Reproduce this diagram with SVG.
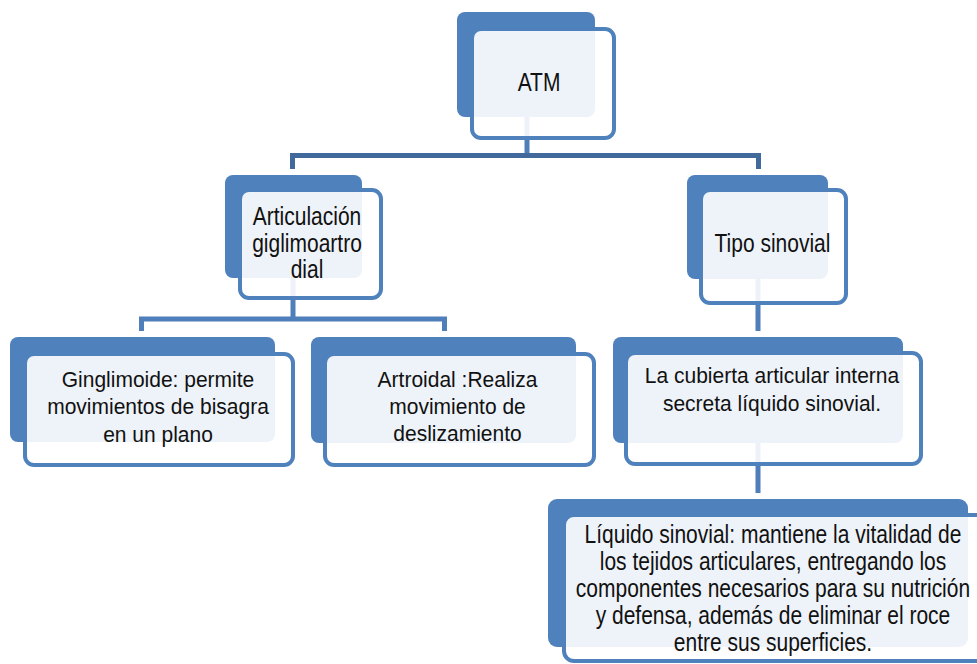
<svg xmlns="http://www.w3.org/2000/svg" width="977" height="664" viewBox="0 0 977 664">
<style>
.back{fill:#4F81BD}
.front{fill:#ffffff;fill-opacity:0.9;stroke:#4F81BD;stroke-width:4}
.conn{fill:none;stroke:#4F7FBA;stroke-width:5}
.conn1{fill:none;stroke:#41699B;stroke-width:5}
text{font-family:"Liberation Sans",Arial,sans-serif;font-size:21px;fill:#111;text-anchor:middle}
</style>
<rect width="977" height="664" fill="#ffffff"/>
<g id="connectors">
<path class="conn" d="M527,117 V156"/>
<path class="conn1" d="M292.5,169 V155.5 H758.5 V169"/>
<path class="conn" d="M293,278 V319"/>
<path class="conn" d="M141.5,331 V319 H444.5 V331"/>
<path class="conn" d="M758,279 V331"/>
<path class="conn" d="M758,443 V493"/>
</g>
<g id="n-atm">
<rect class="back" x="457" y="12" width="138" height="105" rx="8"/>
<rect class="front" x="472" y="29" width="142" height="109" rx="9"/>
<text transform="translate(539,90.5) scale(1,1.26)">ATM</text>
</g>
<g id="n-articulacion">
<rect class="back" x="225" y="175" width="137" height="103" rx="8"/>
<rect class="front" x="240" y="190" width="141" height="108" rx="9"/>
<text transform="translate(307,225) scale(1,1.2)">Articulación</text>
<text transform="translate(307,252) scale(1,1.2)">giglimoartro</text>
<text transform="translate(307,278) scale(1,1.2)">dial</text>
</g>
<g id="n-tipo">
<rect class="back" x="687" y="175" width="141" height="104" rx="8"/>
<rect class="front" x="701" y="190" width="145" height="113" rx="9"/>
<text transform="translate(772.5,252) scale(1,1.2)">Tipo sinovial</text>
</g>
<g id="n-ginglimoide">
<rect class="back" x="10" y="337" width="265" height="105" rx="8"/>
<rect class="front" x="25" y="354" width="268" height="111" rx="9"/>
<text transform="translate(158,386.5) scale(1,1.02)">Ginglimoide: permite</text>
<text transform="translate(158,414) scale(1,1.02)">movimientos de bisagra</text>
<text transform="translate(158,441.5) scale(1,1.02)">en un plano</text>
</g>
<g id="n-artroidal">
<rect class="back" x="311" y="337" width="265" height="106" rx="8"/>
<rect class="front" x="325" y="354" width="269" height="111" rx="9"/>
<text transform="translate(457.5,387) scale(1,1.05)">Artroidal :Realiza</text>
<text transform="translate(457.5,414) scale(1,1.05)">movimiento de</text>
<text transform="translate(457.5,440.5) scale(1,1.05)">deslizamiento</text>
</g>
<g id="n-cubierta">
<rect class="back" x="613" y="337" width="290" height="106" rx="8"/>
<rect class="front" x="626" y="353" width="295" height="111" rx="9"/>
<text transform="translate(772,383) scale(1,1.07)">La cubierta articular interna</text>
<text transform="translate(772,410.5) scale(1,1.07)">secreta líquido sinovial.</text>
</g>
<g id="n-liquido">
<rect class="back" x="548" y="499" width="420" height="148" rx="9"/>
<rect class="front" x="564" y="515" width="424" height="146" rx="10"/>
<text transform="translate(773,542.5) scale(1,1.22)">Líquido sinovial: mantiene la vitalidad de</text>
<text transform="translate(773,570) scale(1,1.22)">los tejidos articulares, entregando los</text>
<text transform="translate(773,597) scale(1,1.22)">componentes necesarios para su nutrición</text>
<text transform="translate(773,624) scale(1,1.22)">y defensa, además de eliminar el roce</text>
<text transform="translate(773,650.5) scale(1,1.22)">entre sus superficies.</text>
</g>
</svg>
